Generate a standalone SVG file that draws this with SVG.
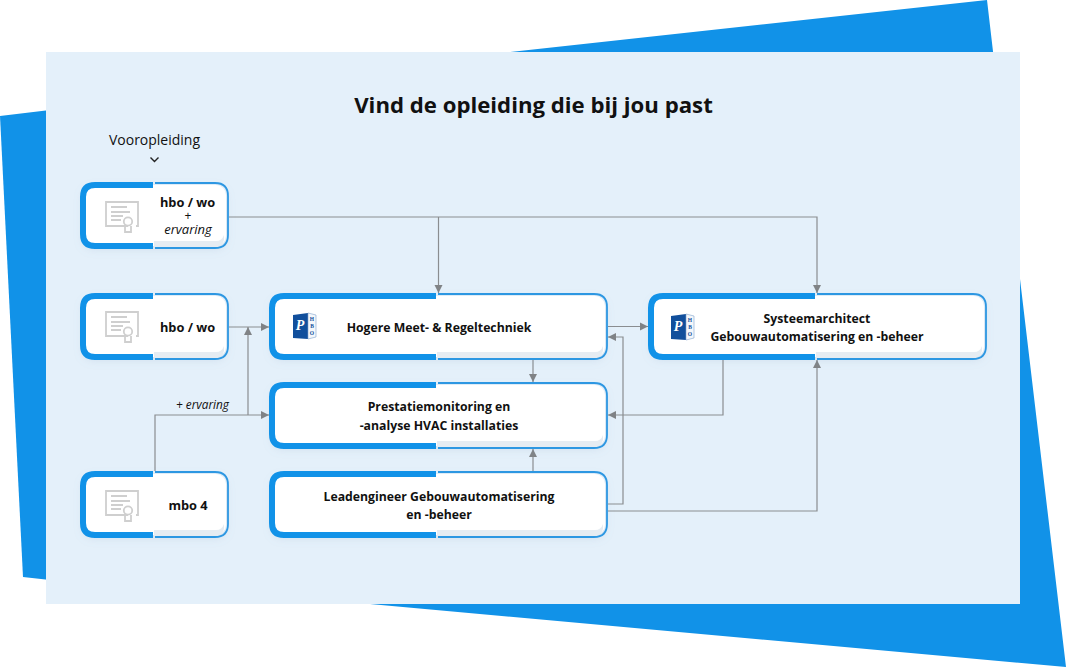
<svg xmlns="http://www.w3.org/2000/svg" width="1067" height="667" viewBox="0 0 1067 667">
<style>
text{font-family:"Open Sans","Noto Sans","Liberation Sans",sans-serif;fill:#111;text-anchor:middle}
.t{font-size:12.25px;font-weight:700}
.h{font-size:12.8px;font-weight:700}
.i{font-size:13px;font-style:italic}
.card{fill:#fff;filter:url(#sh)}
.thick{fill:none;stroke:#1192e8;stroke-width:6}
.thin{fill:none;stroke:#2d97e2;stroke-width:1.8}
.lip{fill:#e6ecf2}
.c{fill:none;stroke:#8a8d90;stroke-width:1.2}
.ic{fill:none;stroke:#cfcfcf;stroke-width:1.8}
.lg{font-family:"Liberation Serif",serif;font-weight:700}
</style>
<defs>
<filter id="sh" x="-10%" y="-20%" width="120%" height="150%"><feDropShadow dx="0" dy="3" stdDeviation="5" flood-color="#7d99b5" flood-opacity=".2"/></filter>
<marker id="a" markerWidth="9" markerHeight="10" refX="8" refY="5" orient="auto" markerUnits="userSpaceOnUse"><path d="M0 1L8 5L0 9Z" fill="#808386"/></marker>
<g id="cert">
<path class="ic" d="M23 25H1V1H33V25H31"/>
<path class="ic" d="M6 6H22M6 11H25M6 15H18M6 19H16"/>
<circle class="ic" cx="23" cy="20.500" r="4.200"/>
<path class="ic" d="M20 25V31H26V25"/>
</g>
<g id="logo">
<path d="M0 2L15 0V26L0 25Z" fill="#114f9c"/>
<path d="M15 0L23 2V24L15 26Z" fill="#f4f7fb" stroke="#7fa3cc" stroke-width=".6"/>
<text class="lg" x="7" y="17" font-size="14" style="fill:#fff;font-style:italic">P</text>
<text class="lg" x="19" y="8" font-size="5.500" style="fill:#114f9c">H</text>
<text class="lg" x="19" y="15" font-size="5.500" style="fill:#114f9c">B</text>
<text class="lg" x="19" y="22" font-size="5.500" style="fill:#114f9c">O</text>
</g>
</defs>
<rect width="1067" height="667" fill="#fff"/>
<g id="backdrop">
<polygon points="383,66 987,0 994,60 383,60" fill="#1192e8"/>
<polygon points="0,116 50,110 50,580 23,577" fill="#1192e8"/>
<polygon points="1020,279 1066,667 370,604 1020,600" fill="#1192e8"/>
<rect x="46" y="52" width="974" height="552" fill="#e4f0fa"/>
</g>
<text x="533.500" y="113" font-size="22.200" style="font-weight:700">Vind de opleiding die bij jou past</text>
<text x="154.500" y="145" font-size="14">Vooropleiding</text>
<path d="M150.500 157.500L154.500 161.500L158.500 157.500" fill="none" stroke="#222" stroke-width="1.400"/>

<g id="connectors">
<path class="c" d="M229 217H817V293" marker-end="url(#a)"/>
<path class="c" d="M438.500 217V293" marker-end="url(#a)"/>
<path class="c" d="M229 327H269" marker-end="url(#a)"/>
<path class="c" d="M155 471V415H269" marker-end="url(#a)"/>
<path class="c" d="M248 415V327" marker-end="url(#a)"/>
<path class="c" d="M608 326.500H648" marker-end="url(#a)"/>
<path class="c" d="M533 360V382" marker-end="url(#a)"/>
<path class="c" d="M533 471V449" marker-end="url(#a)"/>
<path class="c" d="M723 360V415H608" marker-end="url(#a)"/>
<path class="c" d="M608 504H623V337H608" marker-end="url(#a)"/>
<path class="c" d="M608 511H817V360" marker-end="url(#a)"/>
</g>
<text class="i" x="202.500" y="409" style="font-size:11.800px">+ ervaring</text>

<g id="node-hbo-wo-ervaring">
<rect class="card" x="83" y="185" width="143" height="61" rx="10"/>
<path class="lip" d="M154 241H216Q222 241 224 235V240Q222 247 216 247H154Z"/>
<path class="thick" d="M153 185H95Q83 185 83 197V234Q83 246 95 246H153"/>
<path class="thin" d="M155 183H215Q228 183 228 196V235Q228 248 215 248H155"/>
<use href="#cert" x="105" y="201"/>
<text class="h" x="187.500" y="207">hbo / wo</text>
<text x="188" y="220" style="font-size:12px">+</text>
<text class="i" x="188" y="234">ervaring</text>
</g>
<g id="node-hbo-wo">
<rect class="card" x="83" y="296" width="143" height="61" rx="10"/>
<path class="lip" d="M154 352H216Q222 352 224 346V351Q222 358 216 358H154Z"/>
<path class="thick" d="M153 296H95Q83 296 83 308V345Q83 357 95 357H153"/>
<path class="thin" d="M155 294H215Q228 294 228 307V346Q228 359 215 359H155"/>
<use href="#cert" x="105" y="311"/>
<text class="h" x="187.500" y="332">hbo / wo</text>
</g>
<g id="node-mbo-4">
<rect class="card" x="83" y="474" width="143" height="61" rx="10"/>
<path class="lip" d="M154 530H216Q222 530 224 524V529Q222 536 216 536H154Z"/>
<path class="thick" d="M153 474H95Q83 474 83 486V523Q83 535 95 535H153"/>
<path class="thin" d="M155 472H215Q228 472 228 485V524Q228 537 215 537H155"/>
<use href="#cert" x="105" y="490"/>
<text class="h" x="188" y="510">mbo 4</text>
</g>
<g id="node-hogere">
<rect class="card" x="272" y="296" width="333" height="61" rx="10"/>
<path class="lip" d="M437 352H595Q601 352 603 346V351Q601 358 595 358H437Z"/>
<path class="thick" d="M436 296H284Q272 296 272 308V345Q272 357 284 357H436"/>
<path class="thin" d="M438 294H594Q607 294 607 307V346Q607 359 594 359H438"/>
<use href="#logo" x="293" y="313"/>
<text class="t" x="439" y="332">Hogere Meet- &amp; Regeltechniek</text>
</g>
<g id="node-prestatie">
<rect class="card" x="272" y="385" width="333" height="61" rx="10"/>
<path class="lip" d="M437 441H595Q601 441 603 435V440Q601 447 595 447H437Z"/>
<path class="thick" d="M436 385H284Q272 385 272 397V434Q272 446 284 446H436"/>
<path class="thin" d="M438 383H594Q607 383 607 396V435Q607 448 594 448H438"/>
<text class="t" x="439" y="411">Prestatiemonitoring en</text>
<text class="t" x="439" y="430">-analyse HVAC installaties</text>
</g>
<g id="node-leadengineer">
<rect class="card" x="272" y="474" width="333" height="61" rx="10"/>
<path class="lip" d="M437 530H595Q601 530 603 524V529Q601 536 595 536H437Z"/>
<path class="thick" d="M436 474H284Q272 474 272 486V523Q272 535 284 535H436"/>
<path class="thin" d="M438 472H594Q607 472 607 485V524Q607 537 594 537H438"/>
<text class="t" x="439" y="501">Leadengineer Gebouwautomatisering</text>
<text class="t" x="439" y="519">en -beheer</text>
</g>
<g id="node-systeemarchitect">
<rect class="card" x="651" y="296" width="333" height="61" rx="10"/>
<path class="lip" d="M816 352H974Q980 352 982 346V351Q980 358 974 358H816Z"/>
<path class="thick" d="M815 296H663Q651 296 651 308V345Q651 357 663 357H815"/>
<path class="thin" d="M817 294H973Q986 294 986 307V346Q986 359 973 359H817"/>
<use href="#logo" x="671" y="314"/>
<text class="t" x="817" y="323">Systeemarchitect</text>
<text class="t" x="817" y="341">Gebouwautomatisering en -beheer</text>
</g>
</svg>
